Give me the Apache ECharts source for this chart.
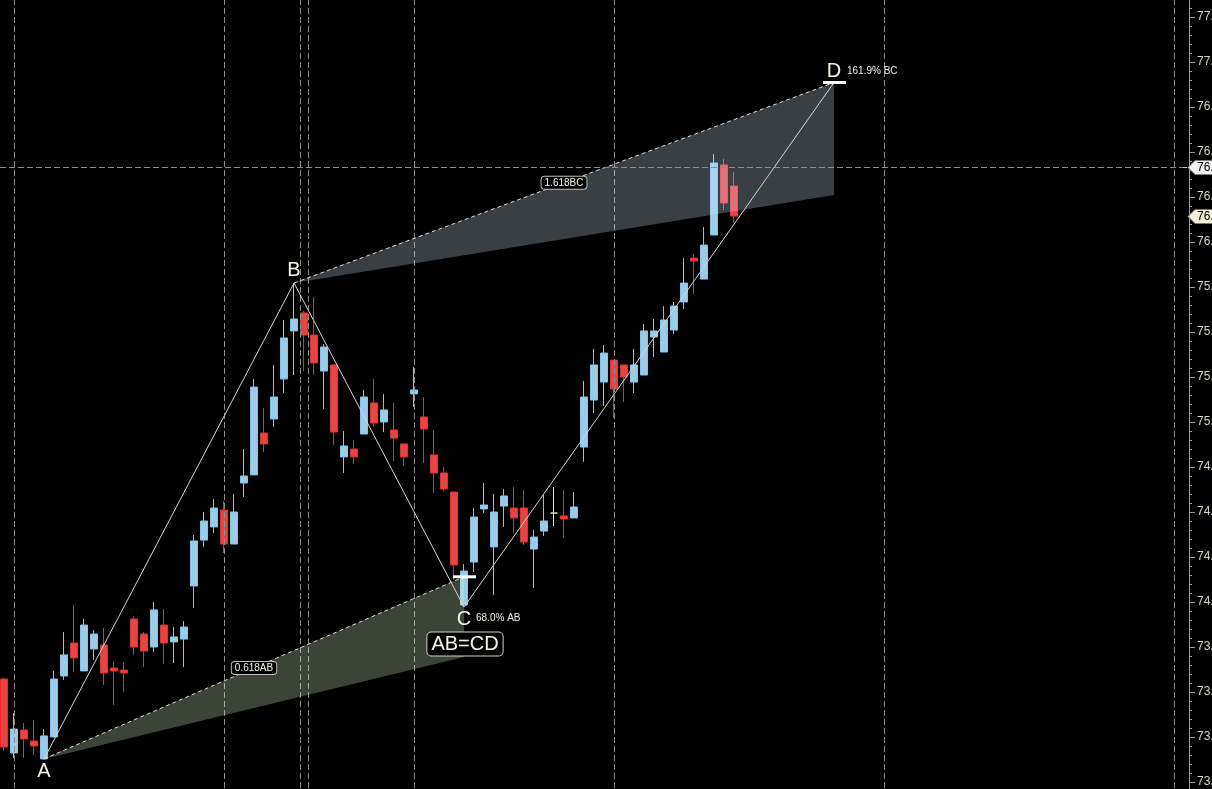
<!DOCTYPE html>
<html><head><meta charset="utf-8">
<script src="https://cdn.jsdelivr.net/npm/echarts@6/dist/echarts.min.js"></script>
<style>html,body{margin:0;padding:0;background:#000;overflow:hidden}#c{width:1212px;height:789px}</style>
</head><body><div id="c"></div>
<script>
// ---- candle values (price) ----
const opens = [73.572,73.161,73.289,73.228,73.128,73.25,73.589,73.772,73.617,73.739,
73.761,73.633,73.622,73.906,73.822,73.75,73.872,73.778,73.794,74.089,
74.344,74.417,74.511,74.322,74.661,74.706,74.939,75.017,75.239,75.506,
75.606,75.483,75.283,75.317,74.806,74.85,74.933,75.106,75.0,74.956,
74.878,75.156,75.028,74.817,74.717,74.611,73.983,74.222,74.517,74.306,
74.533,74.522,74.522,74.294,74.394,74.494,74.478,74.467,74.861,75.122,
75.222,75.344,75.317,75.222,75.261,75.472,75.389,75.511,75.667,75.911,
75.794,76.039,76.428,76.311];
const closes = [73.194,73.294,73.239,73.2,73.256,73.572,73.706,73.689,73.872,73.822,
73.606,73.617,73.606,73.75,73.728,73.956,73.772,73.806,73.861,74.339,
74.45,74.522,74.322,74.5,74.7,75.194,74.878,75.139,75.467,75.572,
75.483,75.328,75.417,74.944,74.867,74.806,75.139,74.994,75.067,74.911,
74.806,75.178,74.961,74.717,74.628,74.206,74.172,74.472,74.539,74.5,
74.589,74.467,74.333,74.361,74.45,74.494,74.461,74.528,75.139,75.317,
75.383,75.183,75.25,75.317,75.506,75.506,75.567,75.644,75.772,75.894,
75.983,76.439,76.217,76.144];
const lows = [73.172,73.133,73.133,73.15,73.125,73.25,73.567,73.611,73.617,73.678,
73.539,73.428,73.5,73.706,73.639,73.722,73.656,73.661,73.639,73.967,
74.306,74.383,74.272,74.322,74.583,74.706,74.833,74.972,75.161,75.261,
75.283,75.261,75.072,74.872,74.717,74.767,74.933,74.972,74.944,74.783,
74.756,75.083,74.772,74.606,74.617,74.122,73.972,74.167,74.494,74.039,
74.417,74.383,74.317,74.078,74.367,74.422,74.356,74.467,74.778,75.05,
75.089,75.022,75.111,75.161,75.261,75.361,75.389,75.489,75.628,75.711,
75.794,76.039,76.178,76.106];
const highs = [73.58,73.383,73.328,73.344,73.294,73.617,73.833,73.983,73.906,73.844,
73.856,73.672,73.667,73.922,73.833,74.0,73.961,73.861,73.894,74.372,
74.5,74.572,74.561,74.6,74.85,75.239,75.078,75.317,75.567,75.772,
75.617,75.694,75.433,75.317,74.95,74.9,75.178,75.239,75.156,75.106,
74.878,75.306,75.139,74.956,74.75,74.611,74.211,74.522,74.661,74.6,
74.628,74.639,74.622,74.4,74.6,74.639,74.622,74.611,75.228,75.406,
75.428,75.344,75.317,75.406,75.544,75.572,75.644,75.667,75.911,75.933,
76.083,76.489,76.461,76.389];
const slotCount = 119; // bars + empty future slots on the time axis
const categories = Array.from({length: slotCount}, (_, i) => String(i + 1));

// ---- AB=CD pattern ----
const pNames = ['A', 'B', 'C', 'D'];
const pIdx = [4, 29, 46, 83];
const pPrice = [73.128, 75.772, 73.972, 76.886];
const retraceLevels = [74.14, 73.694];   // 0.618 / 0.786 AB
const projLevels = [76.886, 76.261];     // 1.618 / 1.272 BC
const bandTexts = ['0.618AB', '1.618BC'];
const bandLabelIdx = [25, 56];
const ratioTexts = ['68.0% AB', '161.9% BC'];
const patternTitle = 'AB=CD';

// ---- reference lines ----
const vLineIdx = [1, 22, 29.6, 30.4, 41, 61, 88, 117];
const crossPrice = 76.417;
const lastPrice = closes[closes.length - 1];

// ---- axis ----
const yMin = 72.75, yMax = 77.5, yStep = 0.25;

const FONT = '"Liberation Sans", Arial, sans-serif';
const chart = echarts.init(document.getElementById('c'), null, {renderer: 'canvas'});

function renderOverlay(params, api) {
  const c = (x, p) => api.coord([x, p]);
  const ch = [];
  const top = c(0, yMax)[1], bot = c(0, yMin)[1];
  // vertical dashed lines
  vLineIdx.forEach(v => {
    const x = Math.round(c(v, yMin)[0]) + 0.5;
    ch.push({type: 'line', shape: {x1: x, y1: top, x2: x, y2: bot},
      style: {stroke: '#8c8c8c', lineWidth: 1, lineDash: [6, 3]}});
  });
  // bands
  const bands = [
    {from: 0, to: 2, levels: retraceLevels, fill: 'rgba(220,250,205,0.27)'},
    {from: 1, to: 3, levels: projLevels, fill: 'rgba(212,232,255,0.27)'}
  ];
  bands.forEach((b, k) => {
    const s = c(pIdx[b.from], pPrice[b.from]);
    const t = c(pIdx[b.to], b.levels[0]);
    const u = c(pIdx[b.to], b.levels[1]);
    ch.push({type: 'polygon', shape: {points: [s, t, u]}, style: {fill: b.fill}});
    ch.push({type: 'line', shape: {x1: s[0], y1: s[1], x2: t[0], y2: t[1]},
      style: {stroke: '#dcdcd4', lineWidth: 1, lineDash: [4, 3]}});
  });
  // crosshair
  const cy = Math.round(c(0, crossPrice)[1]) + 0.5;
  const rightX = c(slotCount - 0.5, crossPrice)[0];
  ch.push({type: 'line', shape: {x1: 0, y1: cy, x2: rightX, y2: cy},
    style: {stroke: '#8c8c8c', lineWidth: 1, lineDash: [6, 3]}});
  // zigzag
  ch.push({type: 'polyline', shape: {points: pIdx.map((x, i) => c(x, pPrice[i]))},
    style: {stroke: '#d6d6d0', lineWidth: 1, fill: null}});
  // band labels
  bands.forEach((b, k) => {
    const li = bandLabelIdx[k];
    const f = (li - pIdx[b.from]) / (pIdx[b.to] - pIdx[b.from]);
    const lp = pPrice[b.from] + (b.levels[0] - pPrice[b.from]) * f;
    const q = c(li, lp);
    ch.push({type: 'text', x: q[0], y: q[1], style: {
      text: bandTexts[k], fill: '#f0f0e8', font: '10px ' + FONT, align: 'center', verticalAlign: 'middle',
      backgroundColor: '#000', borderColor: '#bdbdb5', borderWidth: 1, borderRadius: 3, padding: [1, 3, 1, 3]}});
  });
  // level markers at C and D
  const mC = c(pIdx[2], retraceLevels[0]);
  ch.push({type: 'line', shape: {x1: mC[0] - 11, y1: mC[1], x2: mC[0] + 12, y2: mC[1]},
    style: {stroke: '#ffffff', lineWidth: 3}});
  const mD = c(pIdx[3], pPrice[3]);
  ch.push({type: 'line', shape: {x1: mD[0] - 11, y1: mD[1], x2: mD[0] + 12, y2: mD[1]},
    style: {stroke: '#ffffff', lineWidth: 3}});
  // point letters
  const offs = [13, -13, 12, -11];
  pIdx.forEach((x, i) => {
    const q = c(x, pPrice[i]);
    ch.push({type: 'text', x: q[0], y: q[1] + offs[i], style: {
      text: pNames[i], fill: '#f4f4ea', font: '20px ' + FONT, align: 'center', verticalAlign: 'middle'}});
  });
  // ratio texts
  const qc = c(pIdx[2], pPrice[2]);
  ch.push({type: 'text', x: qc[0] + 12, y: qc[1] + 11, style: {
    text: ratioTexts[0], fill: '#f0f0e8', font: '10px ' + FONT, align: 'left', verticalAlign: 'middle'}});
  const qd = c(pIdx[3], pPrice[3]);
  ch.push({type: 'text', x: qd[0] + 13, y: qd[1] - 11, style: {
    text: ratioTexts[1], fill: '#f0f0e8', font: '10px ' + FONT, align: 'left', verticalAlign: 'middle'}});
  ch.push({type: 'text', x: qc[0] + 1, y: qc[1] + 37, style: {
    text: patternTitle, fill: '#f4f4ea', font: '20px ' + FONT, align: 'center', verticalAlign: 'middle',
    backgroundColor: '#000', borderColor: '#d0d0c8', borderWidth: 1, borderRadius: 4, padding: [2, 4, 1, 4]}});
  // price tags on the axis
  const tag = (price, fill) => {
    const p = c(slotCount - 0.5, price);
    const x = p[0], y = Math.round(p[1]) + 0.5;
    ch.push({type: 'polygon', shape: {points: [[x - 1, y], [x + 6, y - 7], [x + 40, y - 7], [x + 40, y + 7], [x + 6, y + 7]]},
      style: {fill: fill, stroke: '#7a7a7a', lineWidth: 1}});
    ch.push({type: 'text', x: x + 8, y: y, style: {
      text: price.toFixed(2), fill: '#000', font: '12px ' + FONT, align: 'left', verticalAlign: 'middle'}});
  };
  ch.push({type: 'line', shape: {x1: rightX - 6, y1: cy, x2: rightX - 2, y2: cy}, style: {stroke: '#c8c8c8', lineWidth: 1}});
  tag(crossPrice, '#f2f2f2');
  tag(lastPrice, '#f4f0da');
  return {type: 'group', children: ch};
}

chart.setOption({
  animation: false,
  backgroundColor: '#000',
  grid: {left: -1, top: -28, width: 1190, height: 855, containLabel: false, outerBoundsMode: 'none'},
  xAxis: [
    {type: 'category', data: categories, boundaryGap: true, show: false},
    {type: 'value', min: -0.5, max: slotCount - 0.5, show: false}
  ],
  yAxis: {
    type: 'value', position: 'right', min: yMin, max: yMax, interval: yStep,
    axisLine: {show: true, onZero: false, lineStyle: {color: '#9c9c96'}},
    axisTick: {show: true, length: 6, lineStyle: {color: '#9c9c96'}},
    minorTick: {show: true, splitNumber: 5, length: 3, lineStyle: {color: '#9c9c96'}},
    axisLabel: {color: '#d6d6c8', fontSize: 12, fontFamily: FONT, margin: 8, formatter: v => v.toFixed(2)},
    splitLine: {show: false}
  },
  series: [
    {
      type: 'candlestick', xAxisIndex: 0, z: 2, barWidth: 8,
      data: opens.map((o, i) => [o, closes[i], lows[i], highs[i]]),
      itemStyle: {
        color: '#9ecbe3', color0: '#e04848',
        borderColor: '#7cc6f0', borderColor0: '#f02a2a', borderColorDoji: '#e8e4c6', borderWidth: 1
      }
    },
    {
      type: 'custom', xAxisIndex: 1, z: 5, clip: false,
      data: [[pIdx[0], pPrice[0]]],
      renderItem: renderOverlay,
      silent: true
    }
  ]
});
</script>
</body></html>
